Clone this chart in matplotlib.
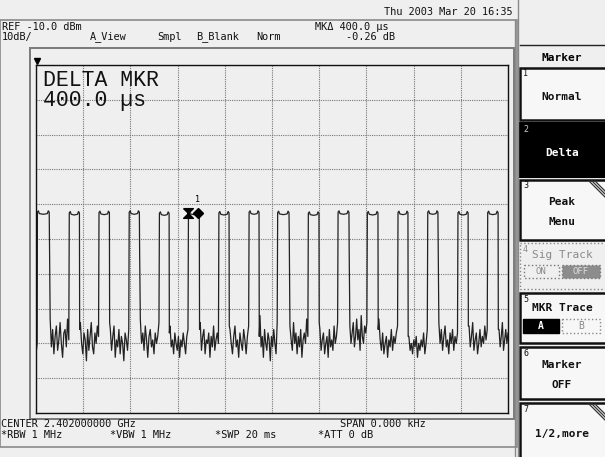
import numpy as np
import matplotlib
matplotlib.use("Agg")
from matplotlib import pyplot as plt
from matplotlib.patches import Rectangle
from matplotlib.path import Path

# sweep: zero span, 20 ms, ref -10 dBm, 10 dB/div
sweep_ms = 20.0
ref_dbm = -10.0
db_div = 10.0

# pulse edges (ms)
rise_ms = [0.06, 1.41, 2.67, 3.95, 5.23, 6.46, 7.75, 9.03,
           10.24, 11.54, 12.80, 14.04, 15.34, 16.60, 17.88, 19.14]
fall_ms = [0.56, 1.84, 3.11, 4.38, 5.64, 6.92, 8.18, 9.45,
           10.72, 11.99, 13.26, 14.49, 15.76, 17.03, 18.31, 19.58]
top_dbm = [-52.3, -52.5, -52.4, -52.3, -52.6, -52.4, -52.5, -52.3,
           -52.4, -52.6, -52.3, -52.5, -52.4, -52.3, -52.5, -52.4]
fall_step_dbm = [-60, -86, -84, -63, -87, -86, -85, -88,
                 -58, -84, -63, -86, -88, -61, -85, -86]

# noise floor between pulses (dBm)
noise_dbm = [
    [-93, -90],
    [-83, -91, -86, -93, -88, -85, -92, -89, -84, -90, -94, -87, -86, -91, -83, -89],
    [-84, -90, -93, -87, -89, -95, -86, -92, -88, -84, -91, -93, -87, -90, -85, -88],
    [-86, -92, -88, -85, -94, -89, -91, -86, -93, -88, -90, -95, -87, -89, -92, -86],
    [-83, -90, -87, -92, -85, -89, -94, -88, -86, -91, -89, -93, -87, -90, -88, -84],
    [-85, -91, -89, -93, -87, -90, -92, -88, -94, -89, -91, -87, -90, -93, -88, -86],
    [-84, -92, -88, -86, -93, -89, -90, -87, -94, -88, -91, -85, -92, -89, -87, -90],
    [-86, -90, -93, -88, -85, -91, -89, -94, -87, -90, -92, -86, -89, -93, -88, -85],
    [-82, -91, -88, -94, -86, -90, -92, -87, -89, -95, -88, -91, -86, -90, -93, -84],
    [-85, -89, -92, -84, -90, -87, -93, -88, -91, -86, -94, -89, -87, -90, -83, -88],
    [-86, -92, -89, -87, -93, -90, -88, -94, -86, -91, -89, -92, -85, -90, -88, -84],
    [-85, -90, -87, -84, -91, -88, -83, -89, -86, -92, -82, -88, -90, -85, -87, -84],
    [-83, -89, -92, -87, -93, -90, -88, -94, -89, -91, -86, -92, -88, -90, -87, -85],
    [-88, -92, -90, -93, -89, -91, -88, -94, -90, -92, -89, -91, -87, -93, -90, -86],
    [-84, -90, -86, -92, -88, -85, -91, -89, -93, -87, -90, -86, -92, -88, -90, -87],
    [-85, -91, -88, -84, -92, -89, -87, -93, -90, -86, -91, -88, -90, -85, -89, -86],
    [-86, -91, -88, -84, -92, -89, -86, -90, -87],
]

mkr_ref_ms = 6.46
mkr_delta_ms = 6.86
mkr_dbm = -52.4

header_rows = [
    ("REF -10.0 dBm", 2, 27), ("MK\u0394 400.0 \u00b5s", 315, 27),
    ("10dB/", 2, 37), ("A_View", 90, 37), ("Smpl", 157, 37),
    ("B_Blank", 196, 37), ("Norm", 256, 37), ("-0.26 dB", 346, 37),
    ("Thu 2003 Mar 20 16:35", 384, 12),
    ("CENTER 2.402000000 GHz", 1, 424), ("SPAN 0.000 kHz", 340, 424),
    ("*RBW 1 MHz", 1, 435), ("*VBW 1 MHz", 110, 435),
    ("*SWP 20 ms", 215, 435), ("*ATT 0 dB", 318, 435),
]

# build the trace
t = []
v = []
gap_start = 0.0
for i in range(len(rise_ms)):
    g = noise_dbm[i]
    if i == 0:
        ts = np.linspace(0.0, rise_ms[0] - 0.01, len(g))
    else:
        ts = np.linspace(gap_start + 0.04, rise_ms[i] - 0.02, len(g))
    t += list(ts)
    v += g
    r, f, top = rise_ms[i], fall_ms[i], top_dbm[i]
    t += [r, r + 0.04, r + 0.08, (r + f) / 2, f - 0.08, f - 0.04, f, f + 0.01]
    v += [top, top + 0.4, top - 0.4, top - 0.6, top - 0.4, top + 0.4, top, fall_step_dbm[i]]
    gap_start = f
g = noise_dbm[-1]
t += list(np.linspace(gap_start + 0.04, sweep_ms, len(g)))
v += g

W, H = 605, 457
BG = "#efefef"
fig = plt.figure(figsize=(W / 100, H / 100), dpi=100, facecolor=BG)

# pixel-space overlay for the instrument screen furniture
bg = fig.add_axes([0, 0, 1, 1])
bg.set_xlim(0, W)
bg.set_ylim(H, 0)
bg.axis("off")
bg.set_facecolor(BG)


def box(x0, y0, x1, y1, **kw):
    bg.add_patch(Rectangle((x0, y0), x1 - x0, y1 - y0, **kw))


mono = "DejaVu Sans Mono"
# outer frames
box(0, 20, 517, 447, fill=False, ec="#8a8a8a", lw=1.2)
bg.plot([515, 515], [20, H], color="#8a8a8a", lw=1.0)
bg.plot([518, 518], [0, H], color="#8a8a8a", lw=1.0)
box(30, 48, 514, 419, fill=False, ec="#7a7a7a", lw=1.4)

for txt, x, y in header_rows:
    bg.text(x, y, txt, family=mono, fontsize=7.4, ha="left", va="center", color="#111111")

# softkey panel
px0, px1 = 520, 608
bg.plot([px0, W], [45, 45], color="#222222", lw=1.0)
bg.text(562, 58, "Marker", family=mono, fontsize=8, ha="center", va="center", fontweight="bold")

keys = [
    (68, 120, "1", ["Normal"], "normal"),
    (123, 177, "2", ["Delta"], "active"),
    (180, 240, "3", ["Peak", "Menu"], "corner"),
    (243, 289, "4", ["Sig Track"], "grey"),
    (293, 343, "5", ["MKR Trace"], "normal"),
    (347, 399, "6", ["Marker", "OFF"], "normal"),
    (403, 460, "7", ["1/2,more"], "corner"),
]
for y0, y1, num, lines, kind in keys:
    if kind == "active":
        box(px0, y0, px1, y1, fc="black", ec="black", lw=1.5)
        fg = "white"
    elif kind == "grey":
        box(px0, y0, px1, y1, fc=BG, ec="#888888", lw=1.0, ls=":")
        fg = "#8a8a8a"
    else:
        box(px0, y0, px1, y1, fc="#f7f7f7", ec="#111111", lw=1.8)
        fg = "#111111"
    bg.text(px0 + 3, y0 + 6, num, family=mono, fontsize=6, color="#cccccc" if kind == "active" else fg,
            ha="left", va="center")
    if kind == "corner":
        for k in range(3):
            d = 10 + k * 3
            bg.plot([W - d, W], [y0 + 1, y0 + 1 + d], color="#333333", lw=0.9)
    if kind == "grey":
        bg.text(562, y0 + 12, lines[0], family=mono, fontsize=8, color=fg, ha="center", va="center")
        box(524, y0 + 22, 559, y0 + 35, fill=False, ec="#777777", lw=1.0, ls=":")
        bg.text(541, y0 + 28.5, "ON", family=mono, fontsize=6.5, color=fg, ha="center", va="center")
        box(562, y0 + 22, 600, y0 + 35, fc="#8c8c8c", ec="#777777", lw=1.0, ls=":")
        bg.text(581, y0 + 28.5, "OFF", family=mono, fontsize=6.5, color="#e0e0e0", ha="center", va="center")
    elif num == "5":
        bg.text(562, y0 + 15, lines[0], family=mono, fontsize=8, color=fg, ha="center", va="center",
                fontweight="bold")
        box(523, y0 + 26, 559, y0 + 40, fc="black", ec="black", lw=1.0)
        bg.text(541, y0 + 33, "A", family=mono, fontsize=7, color="white", ha="center", va="center",
                fontweight="bold")
        box(562, y0 + 26, 600, y0 + 40, fill=False, ec="#888888", lw=1.0, ls=":")
        bg.text(581, y0 + 33, "B", family=mono, fontsize=7, color="#888888", ha="center", va="center")
    elif len(lines) == 2:
        mid = (y0 + y1) / 2 + 2
        bg.text(562, mid - 10, lines[0], family=mono, fontsize=8, color=fg, ha="center", va="center",
                fontweight="bold")
        bg.text(562, mid + 10, lines[1], family=mono, fontsize=8, color=fg, ha="center", va="center",
                fontweight="bold")
    else:
        bg.text(562, (y0 + y1) / 2 + 3, lines[0], family=mono, fontsize=8, color=fg, ha="center",
                va="center", fontweight="bold")

# graticule axes
gx0, gx1, gy0, gy1 = 36, 508, 65, 413
ax = fig.add_axes([gx0 / W, 1 - gy1 / H, (gx1 - gx0) / W, (gy1 - gy0) / H])
ax.set_facecolor(BG)
ax.set_xlim(0, sweep_ms)
ax.set_ylim(ref_dbm - 10 * db_div, ref_dbm)
ax.set_xticks(np.arange(0, sweep_ms + 0.1, sweep_ms / 10))
ax.set_yticks(np.arange(ref_dbm - 10 * db_div, ref_dbm + 1, db_div))
ax.tick_params(length=0, labelbottom=False, labelleft=False)
ax.grid(True, color="#777777", ls=(0, (1, 1)), lw=0.8)
for s in ax.spines.values():
    s.set_color("#111111")
    s.set_linewidth(1.0)

ax.plot(t, v, color="#222222", lw=0.9)

# markers: reference (hourglass) and delta (diamond)
hourglass = Path([(-1, 1), (1, 1), (-1, -1), (1, -1), (-1, 1)])
ax.plot([mkr_ref_ms], [mkr_dbm], marker=hourglass, ms=7, color="black", ls="none")
ax.plot([mkr_delta_ms], [mkr_dbm], marker="D", ms=5, color="black", ls="none")
ax.text(mkr_delta_ms, mkr_dbm + 2.5, "1", fontsize=6, ha="center", va="bottom", family=mono)

ax.text(0.015, 0.985, "DELTA MKR\n400.0 \u00b5s", transform=ax.transAxes, ha="left", va="top",
        family="Liberation Mono", fontsize=15.5, linespacing=0.95, color="#111111")

# reference level triangle
bg.plot([37], [61], marker="v", ms=4, color="black")

fig.savefig("out.png", dpi=100, facecolor=BG)
